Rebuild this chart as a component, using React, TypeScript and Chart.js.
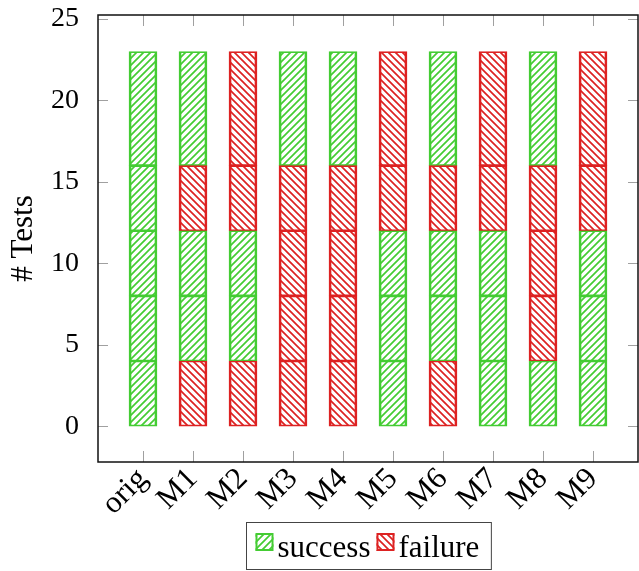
import React, { useEffect, useRef } from 'react';
import { Chart, registerables } from 'chart.js';

Chart.register(...registerables);

// ---- data ----
const categories = ['orig', 'M1', 'M2', 'M3', 'M4', 'M5', 'M6', 'M7', 'M8', 'M9'];
const categoryPositions = [0, 1, 2, 3, 4, 5, 6, 7, 8, 9];

// segment sizes, bottom to top (number of tests in each group)
const seg1Values = [4, 4, 4, 4, 4, 4, 4, 4, 4, 4];
const seg2Values = [4, 4, 4, 4, 4, 4, 4, 4, 4, 4];
const seg3Values = [4, 4, 4, 4, 4, 4, 4, 4, 4, 4];
const seg4Values = [4, 4, 4, 4, 4, 4, 4, 4, 4, 4];
const seg5Values = [7, 7, 7, 7, 7, 7, 7, 7, 7, 7];

// outcome of each segment: 's' = success, 'f' = failure
const seg1Outcome = ['s', 'f', 'f', 'f', 'f', 's', 'f', 's', 's', 's'];
const seg2Outcome = ['s', 's', 's', 'f', 'f', 's', 's', 's', 'f', 's'];
const seg3Outcome = ['s', 's', 's', 'f', 'f', 's', 's', 's', 'f', 's'];
const seg4Outcome = ['s', 'f', 'f', 'f', 'f', 'f', 'f', 'f', 'f', 'f'];
const seg5Outcome = ['s', 's', 'f', 's', 's', 'f', 's', 'f', 's', 'f'];

const yTickValues = [0, 5, 10, 15, 20, 25];
const legendLabels = ['success', 'failure'];

// ---- styles ----
const GREEN = '#44cc33';
const RED = '#dd2222';
const FONT = '"Liberation Serif", "Times New Roman", serif';

function makePattern(color: string, dir: 'ne' | 'nw'): CanvasPattern | string {
  const s = 7;
  const c = document.createElement('canvas');
  c.width = s;
  c.height = s;
  const g = c.getContext('2d');
  if (!g) return color;
  g.strokeStyle = color;
  g.lineWidth = 1.7;
  g.beginPath();
  for (const k of [-s, 0, s]) {
    if (dir === 'ne') {
      g.moveTo(k - 1, s + 1);
      g.lineTo(k + s + 1, -1);
    } else {
      g.moveTo(k - 1, -1);
      g.lineTo(k + s + 1, s + 1);
    }
  }
  g.stroke();
  const p = g.createPattern(c, 'repeat');
  return p || color;
}

export default function App() {
  const ref = useRef<HTMLCanvasElement | null>(null);

  useEffect(() => {
    const canvas = ref.current;
    if (!canvas) return;
    const greenPat = makePattern(GREEN, 'ne');
    const redPat = makePattern(RED, 'nw');

    const segValues = [seg1Values, seg2Values, seg3Values, seg4Values, seg5Values];
    const segOutcomes = [seg1Outcome, seg2Outcome, seg3Outcome, seg4Outcome, seg5Outcome];

    const datasets = segValues.map((vals, k) => ({
      label: 'segment ' + (k + 1),
      data: vals.map((v, i) => ({ x: categoryPositions[i], y: v })),
      backgroundColor: segOutcomes[k].map((o) => (o === 's' ? greenPat : redPat)),
      borderColor: segOutcomes[k].map((o) => (o === 's' ? GREEN : RED)),
      borderWidth: { top: 1, bottom: 1, left: 2, right: 2 },
      borderSkipped: false,
      barThickness: 28,
    }));

    const framePlugin = {
      id: 'frame',
      afterDraw(chart: any) {
        const ctx = chart.ctx;
        const { left, right, top, bottom } = chart.chartArea;
        const xs = chart.scales.x;
        const ys = chart.scales.y;
        ctx.save();
        ctx.strokeStyle = '#a0a0a0';
        ctx.lineWidth = 1;
        ctx.beginPath();
        ys.ticks.forEach((t: any) => {
          const y = Math.round(ys.getPixelForValue(t.value)) + 0.5;
          ctx.moveTo(left, y);
          ctx.lineTo(left + 10, y);
          ctx.moveTo(right - 10, y);
          ctx.lineTo(right, y);
        });
        xs.ticks.forEach((t: any) => {
          const x = Math.round(xs.getPixelForValue(t.value)) + 0.5;
          ctx.moveTo(x, bottom);
          ctx.lineTo(x, bottom - 11);
          ctx.moveTo(x, top);
          ctx.lineTo(x, top + 11);
        });
        ctx.stroke();
        ctx.strokeStyle = '#111';
        ctx.lineWidth = 1.5;
        ctx.strokeRect(left, top, right - left, bottom - top);

        // legend
        ctx.font = '31px ' + FONT;
        const w1 = ctx.measureText(legendLabels[0]).width;
        const w2 = ctx.measureText(legendLabels[1]).width;
        const sw = 18;
        const padL = 9;
        const padR = 12;
        const gapText = 4;
        const gapItem = 6;
        const total = padL + sw + gapText + w1 + gapItem + sw + gapText + w2 + padR;
        const cx = (left + right) / 2;
        const bx = Math.round(cx - total / 2) + 0.5;
        const by = 522.5;
        const bh = 47;
        ctx.strokeStyle = '#444';
        ctx.lineWidth = 1;
        ctx.strokeRect(bx, by, total, bh);
        const items = [
          { pat: greenPat, col: GREEN, text: legendLabels[0], w: w1 },
          { pat: redPat, col: RED, text: legendLabels[1], w: w2 },
        ];
        let x = bx + padL;
        ctx.textBaseline = 'alphabetic';
        ctx.textAlign = 'left';
        items.forEach((it) => {
          ctx.fillStyle = it.pat as any;
          ctx.fillRect(x, 533, sw, 18);
          ctx.strokeStyle = it.col;
          ctx.lineWidth = 2;
          ctx.strokeRect(x + 1, 534, sw - 2, 16);
          ctx.fillStyle = '#000';
          ctx.fillText(it.text, x + sw + gapText, 557);
          x += sw + gapText + it.w + gapItem;
        });
        ctx.restore();
      },
    };

    const chart = new Chart(canvas, {
      type: 'bar',
      data: { datasets: datasets as any },
      options: {
        animation: false,
        responsive: false,
        devicePixelRatio: 1,
        layout: { padding: { top: 15, right: 1, left: 0, bottom: 0 } },
        plugins: { legend: { display: false }, tooltip: { enabled: false } },
        scales: {
          x: {
            type: 'linear',
            stacked: true,
            offset: false,
            min: -0.9,
            max: 9.9,
            grid: { display: false, offset: false },
            border: { display: false },
            afterFit: (s: any) => {
              s.height = 109;
              s.paddingLeft = 0;
              s.paddingRight = 0;
            },
            afterBuildTicks: (s: any) => {
              s.ticks = categoryPositions.map((v) => ({ value: v }));
            },
            ticks: {
              autoSkip: false,
              minRotation: 45,
              maxRotation: 45,
              padding: -9,
              color: '#000',
              font: { family: FONT, size: 31 },
              callback: (v: any) => categories[Math.round(Number(v))] ?? '',
            },
          },
          y: {
            type: 'linear',
            stacked: true,
            min: -2.2,
            max: 25.25,
            grid: { display: false },
            border: { display: false },
            afterFit: (s: any) => {
              s.width = 98;
              s.paddingTop = 0;
              s.paddingBottom = 0;
            },
            afterBuildTicks: (s: any) => {
              s.ticks = yTickValues.map((v) => ({ value: v }));
            },
            ticks: {
              padding: 11,
              color: '#000',
              font: { family: FONT, size: 28 },
            },
            title: {
              display: true,
              text: '# Tests',
              color: '#000',
              font: { family: FONT, size: 31 },
              padding: { top: 5, bottom: 0 },
            },
          },
        },
      },
      plugins: [framePlugin],
    });
    return () => chart.destroy();
  }, []);

  return (
    <div style={{ position: 'absolute', left: 0, top: 0, width: 639, height: 571, background: '#fff' }}>
      <canvas ref={ref} width={639} height={571} style={{ width: 639, height: 571, display: 'block' }} />
    </div>
  );
}
